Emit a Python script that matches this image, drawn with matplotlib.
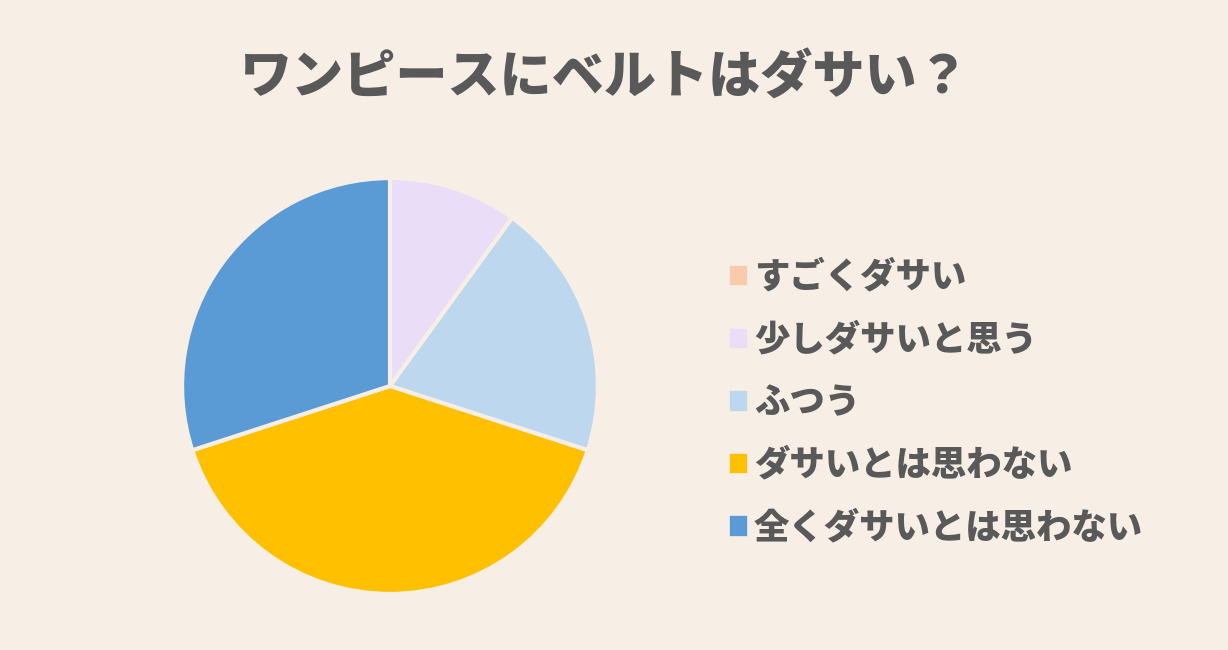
import matplotlib.pyplot as plt

plt.rcParams['font.family'] = ['Noto Sans CJK JP', 'DejaVu Sans']

labels = ["すごくダサい", "少しダサいと思う", "ふつう", "ダサいとは思わない", "全くダサいとは思わない"]
values = [0, 10, 20, 40, 30]
colors = ["#F8CBAD", "#EADDF8", "#BDD7EE", "#FFC000", "#5B9BD5"]
title = "ワンピースにベルトはダサい？"

bg = "#F7EEE6"
text_color = "#595959"

fig = plt.figure(figsize=(12.28, 6.5), dpi=100, facecolor=bg)

# pie area
ax = fig.add_axes([180 / 1228, (650 - 386 - 210) / 650, 420 / 1228, 420 / 650])
wedges, _ = ax.pie(values, colors=colors, startangle=90, counterclock=False,
                   wedgeprops=dict(edgecolor=bg, linewidth=3))
ax.set_xlim(-1.01, 1.01)
ax.set_ylim(-1.01, 1.01)
ax.set_aspect('equal')

fig.text(605 / 1228, 1 - 78 / 650, title, ha='center', va='center',
         fontsize=37.5, fontweight=900, color=text_color)

leg = fig.legend(wedges, labels, loc='center left', bbox_to_anchor=(715 / 1228, 1 - 402 / 650),
                 frameon=False, handlelength=0.5, handleheight=0.5,
                 handletextpad=0.2, labelspacing=0.75, borderaxespad=0,
                 labelcolor=text_color, prop=dict(weight=900, size=25.5))
for h in leg.legend_handles:
    h.set_linewidth(0.5)

fig.savefig("out.png", dpi=100, facecolor=bg)
